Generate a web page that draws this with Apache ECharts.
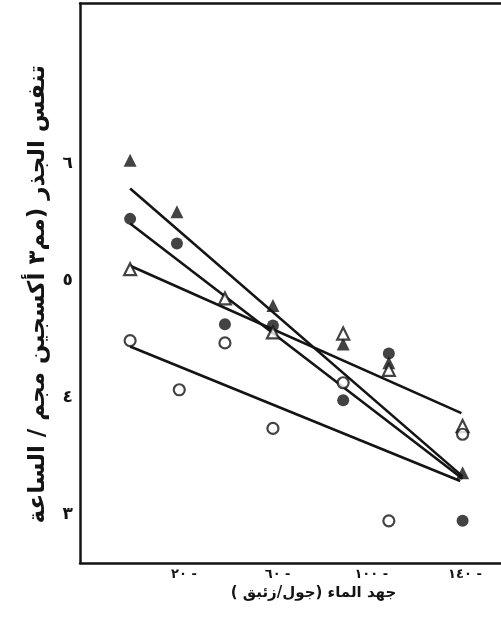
<!DOCTYPE html>
<html>
<head>
<meta charset="utf-8">
<script src="https://cdn.jsdelivr.net/npm/echarts@6/dist/echarts.min.js"></script>
<style>
html,body{margin:0;padding:0;background:#fff;}
#chart{width:501px;height:619px;}
</style>
</head>
<body>
<div id="chart"></div>
<script>
// Tick labels
const xTickValues = [20, 60, 100, 140];
const xTickLabels = ['٢٠ -', '٦٠ -', '١٠٠ -', '١٤٠ -'];
const yTickValues = [3, 4, 5, 6];
const yTickLabels = ['٣', '٤', '٥', '٦'];
const xAxisTitle = 'جهد الماء (جول/زئبق )';
const yAxisTitle = 'تنفس الجذر (مم٣ أكسجين مجم / الساعة';

// Series: filled triangles
const filledTriX = [0, 20, 61, 91, 110.5, 142];
const filledTriY = [6.03, 5.59, 4.79, 4.46, 4.30, 3.36];
// filled circles
const filledCirX = [0, 20, 40.5, 61, 91, 110.5, 142];
const filledCirY = [5.53, 5.32, 4.63, 4.62, 3.98, 4.38, 2.95];
// open triangles
const openTriX = [0, 40.5, 61, 91, 110.5, 142];
const openTriY = [5.10, 4.85, 4.56, 4.55, 4.24, 3.76];
// open circles
const openCirX = [0, 21, 40.5, 61, 91, 110.5, 142];
const openCirY = [4.49, 4.07, 4.47, 3.74, 4.13, 2.95, 3.69];

// Fitted lines (end points)
const fitFilledTriX = [0, 142];
const fitFilledTriY = [5.79, 3.33];
const fitFilledCirX = [0, 142];
const fitFilledCirY = [5.49, 3.31];
const fitOpenTriX = [0, 141.5];
const fitOpenTriY = [5.13, 3.87];
const fitOpenCirX = [0, 141];
const fitOpenCirY = [4.44, 3.29];

const zip = (xs, ys) => xs.map((x, i) => [x, ys[i]]);
const INK = '#141414';
const FONT = 'DejaVu Sans';

const chart = echarts.init(document.getElementById('chart'), null, {renderer: 'canvas'});

function fit(xs, ys) {
  return {
    type: 'line', data: zip(xs, ys), symbol: 'none', z: 2,
    lineStyle: {color: INK, width: 2.6}, animation: false, silent: true
  };
}
function pts(xs, ys, symbol, size, open) {
  return {
    type: 'scatter', data: zip(xs, ys), symbol: symbol, symbolSize: size, z: 5,
    itemStyle: open ? {color: '#fff', borderColor: INK, borderWidth: 2.2} : {color: INK},
    animation: false, silent: true
  };
}

chart.setOption({
  backgroundColor: '#fff',
  animation: false,
  grid: {left: 80, right: 0, top: 3.5, bottom: 56, containLabel: false},
  xAxis: [{
    type: 'value', min: -21.4, max: 158.4, position: 'bottom',
    splitLine: {show: false},
    axisLine: {show: true, onZero: false, lineStyle: {color: INK, width: 2.5}},
    axisTick: {show: false},
    axisLabel: {
      customValues: xTickValues, margin: 5,
      formatter: v => xTickLabels[xTickValues.indexOf(v)] || '',
      color: INK, fontFamily: FONT, fontSize: 13, fontWeight: 'bold',
      padding: [0, 0, 0, 14]
    },
    name: xAxisTitle, nameLocation: 'middle', nameGap: 17,
    nameTextStyle: {color: INK, fontFamily: FONT, fontSize: 15, fontWeight: 'bold', padding: [0, 0, 0, 46]}
  }, {
    type: 'value', min: -21.4, max: 158.4, position: 'top',
    splitLine: {show: false},
    axisLine: {show: true, onZero: false, lineStyle: {color: INK, width: 2.5}},
    axisTick: {show: false}, axisLabel: {show: false}
  }],
  yAxis: {
    type: 'value', min: 2.59, max: 7.37,
    splitLine: {show: false},
    axisLine: {show: true, onZero: false, lineStyle: {color: INK, width: 2.5}},
    axisTick: {show: false},
    axisLabel: {
      customValues: yTickValues, margin: 7,
      formatter: v => yTickLabels[yTickValues.indexOf(v)] || '',
      color: INK, fontFamily: FONT, fontSize: 17, fontWeight: 'bold'
    },
    name: yAxisTitle, nameLocation: 'middle', nameGap: 30, nameRotate: 90,
    nameTextStyle: {color: INK, fontFamily: FONT, fontSize: 23, fontWeight: 'bold', padding: [0, 22, 0, 0]}
  },
  series: [
    fit(fitFilledTriX, fitFilledTriY),
    fit(fitFilledCirX, fitFilledCirY),
    fit(fitOpenTriX, fitOpenTriY),
    fit(fitOpenCirX, fitOpenCirY),
    pts(filledTriX, filledTriY, 'triangle', 13, false),
    pts(filledCirX, filledCirY, 'circle', 12, false),
    pts(openTriX, openTriY, 'triangle', 12, true),
    pts(openCirX, openCirY, 'circle', 11, true)
  ]
});
</script>
</body>
</html>
